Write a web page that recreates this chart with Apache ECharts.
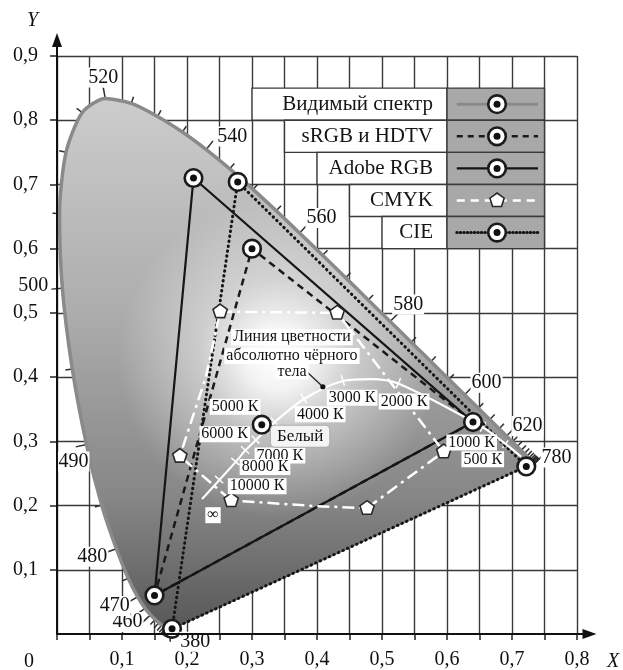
<!DOCTYPE html>
<html>
<head>
<meta charset="utf-8">
<script src="https://cdn.jsdelivr.net/npm/echarts@6/dist/echarts.min.js"></script>
<style>
  html, body { margin: 0; background: #fff; }
  #main { width: 623px; height: 670px; }
</style>
</head>
<body>
<div id="main"></div>
<script>
// спектральный локус CIE 1931: [нм, x, y]
const spectralLocus = [
  [380, 0.1741, 0.0050], [385, 0.1740, 0.0050], [390, 0.1738, 0.0049], [395, 0.1736, 0.0049],
  [400, 0.1733, 0.0048], [405, 0.1730, 0.0048], [410, 0.1726, 0.0048], [415, 0.1721, 0.0048],
  [420, 0.1714, 0.0051], [425, 0.1703, 0.0058], [430, 0.1689, 0.0069], [435, 0.1669, 0.0086],
  [440, 0.1644, 0.0109], [445, 0.1611, 0.0138], [450, 0.1566, 0.0177], [455, 0.1510, 0.0227],
  [460, 0.1440, 0.0297], [465, 0.1355, 0.0399], [470, 0.1241, 0.0578], [475, 0.1096, 0.0868],
  [480, 0.0913, 0.1327], [485, 0.0687, 0.2007], [490, 0.0454, 0.2950], [495, 0.0235, 0.4127],
  [500, 0.0082, 0.5384], [505, 0.0039, 0.6548], [510, 0.0139, 0.7502], [515, 0.0389, 0.8120],
  [520, 0.0743, 0.8338], [525, 0.1142, 0.8262], [530, 0.1547, 0.8059], [535, 0.1929, 0.7816],
  [540, 0.2296, 0.7543], [545, 0.2658, 0.7243], [550, 0.3016, 0.6923], [555, 0.3373, 0.6589],
  [560, 0.3731, 0.6245], [565, 0.4087, 0.5896], [570, 0.4441, 0.5547], [575, 0.4788, 0.5202],
  [580, 0.5125, 0.4866], [585, 0.5448, 0.4544], [590, 0.5752, 0.4242], [595, 0.6029, 0.3965],
  [600, 0.6270, 0.3725], [605, 0.6482, 0.3514], [610, 0.6658, 0.3340], [615, 0.6801, 0.3197],
  [620, 0.6915, 0.3083], [625, 0.7006, 0.2993], [630, 0.7079, 0.2920], [635, 0.7140, 0.2859],
  [640, 0.7190, 0.2809], [645, 0.7230, 0.2770], [650, 0.7260, 0.2740], [655, 0.7283, 0.2717],
  [660, 0.7300, 0.2700], [665, 0.7311, 0.2689], [670, 0.7320, 0.2680], [675, 0.7327, 0.2673],
  [680, 0.7334, 0.2666], [685, 0.7340, 0.2660], [690, 0.7344, 0.2656], [695, 0.7346, 0.2654],
  [700, 0.7347, 0.2653]
]
const wavelengthLabels = [
  [380, '380'], [460, '460'], [470, '470'], [480, '480'], [490, '490'], [500, '500'],
  [520, '520'], [540, '540'], [560, '560'], [580, '580'], [600, '600'], [620, '620'], [700, '780']
]

// цветовые охваты
const srgbGamut = [[0.64, 0.33], [0.30, 0.60], [0.15, 0.06]]
const adobeGamut = [[0.64, 0.33], [0.21, 0.71], [0.15, 0.06]]
const cieGamut = [[0.722, 0.261], [0.278, 0.704], [0.177, 0.008]]
const cmykCorners = [[0.251, 0.502], [0.431, 0.500], [0.595, 0.284], [0.477, 0.196], [0.268, 0.208], [0.189, 0.277]]
const cmykPath = [[0.251, 0.502], [0.431, 0.500], [0.595, 0.284], [0.477, 0.196], [0.400, 0.199],
  [0.268, 0.208], [0.189, 0.277], [0.229, 0.400], [0.251, 0.502]]
const whitePoint = [0.315, 0.326]

// линия абсолютно чёрного тела (точки изотерм)
const blackbody = [
  ['∞', 0.223, 0.210], ['10000 К', 0.250, 0.240], ['8000 К', 0.275, 0.268], ['7000 К', 0.290, 0.286],
  ['6000 К', 0.306, 0.302], ['5000 К', 0.335, 0.330], ['4000 К', 0.380, 0.366], ['3000 К', 0.440, 0.394],
  ['', 0.482, 0.397], ['2000 К', 0.525, 0.390], ['1000 К', 0.655, 0.322], ['500 К', 0.690, 0.296],
  ['', 0.714, 0.276]
]
const tempLabels = [
  ['5000 К', 0.274, 0.354], ['6000 К', 0.258, 0.311], ['7000 К', 0.343, 0.278], ['8000 К', 0.320, 0.260],
  ['10000 К', 0.308, 0.230], ['∞', 0.240, 0.185], ['4000 К', 0.405, 0.342], ['3000 К', 0.454, 0.368],
  ['2000 К', 0.534, 0.362], ['1000 К', 0.638, 0.298], ['500 К', 0.655, 0.272]
]
const curveCaption = [['Линия цветности', 0.3615, 0.462], ['абсолютно чёрного', 0.3615, 0.433], ['тела', 0.3615, 0.409]]
const curveDot = [0.409, 0.385]
const whiteCaption = ['Белый', 0.374, 0.308]

const legendNames = ['Видимый спектр', 'sRGB и HDTV', 'Adobe RGB', 'CMYK', 'CIE']
const xLabels = [0.1, 0.2, 0.3, 0.4, 0.5, 0.6, 0.7, 0.8]
const yLabels = [0.1, 0.2, 0.3, 0.4, 0.5, 0.6, 0.7, 0.8, 0.9]

// оформление
const FONT = "'Liberation Serif', 'Times New Roman', serif"
const gridColor = '#3a3a3a'
const labelOffset = {
  380: [25, 11], 460: [-23, 7], 470: [-23, 9], 480: [-24, 8], 490: [-13, 17], 500: [-29, -2],
  520: [-2, -21], 540: [26, -13], 560: [22, -15], 580: [18, -17], 600: [22, -12], 620: [21, -10], 700: [22, -6]
}
const legendLeft = [0.3, 0.35, 0.4, 0.45, 0.5]

const closed = arr => arr.concat([arr[0]])
const pt = d => [d[1], d[2]]

function ring(p) {
  return [
    { type: 'circle', shape: { cx: p[0], cy: p[1], r: 8.8 }, style: { fill: '#fff', stroke: '#1b1b1b', lineWidth: 2.6 } },
    { type: 'circle', shape: { cx: p[0], cy: p[1], r: 3.5 }, style: { fill: '#111' } }
  ]
}
function pentagon(p, r) {
  let pts = []
  for (let k = 0; k < 5; k++) {
    let a = (-90 + 72 * k) * Math.PI / 180
    pts.push([p[0] + r * Math.cos(a), p[1] + r * Math.sin(a)])
  }
  return { type: 'polygon', shape: { points: pts }, style: { fill: '#fff', stroke: '#2a2a2a', lineWidth: 1.6 } }
}

// все точки-кольца (без повторов)
let ringPoints = []
srgbGamut.concat(adobeGamut, cieGamut, [whitePoint]).forEach(p => {
  if (!ringPoints.some(q => q[0] === p[0] && q[1] === p[1])) ringPoints.push(p)
})

var myChart = echarts.init(document.getElementById('main'))

var option = {
  animation: false,
  grid: { left: 57, right: 46, top: 56, bottom: 35 },
  xAxis: {
    type: 'value', min: 0, max: 0.8, interval: 0.05,
    axisLine: { show: false },
    axisTick: { show: true, length: 6, lineStyle: { color: '#222', width: 1.5 } },
    axisLabel: {
      customValues: xLabels, margin: 16, color: '#111', fontFamily: FONT, fontSize: 20,
      formatter: v => v.toFixed(1).replace('.', ',')
    },
    splitLine: { show: true, lineStyle: { color: gridColor, width: 1.4 } }
  },
  yAxis: {
    type: 'value', min: 0, max: 0.9, interval: 0.05,
    axisLine: { show: false },
    axisTick: { show: true, customValues: yLabels, length: 7, lineStyle: { color: '#222', width: 1.5 } },
    axisLabel: {
      customValues: yLabels, margin: 19, color: '#111', fontFamily: FONT, fontSize: 20,
      formatter: v => v.toFixed(1).replace('.', ',')
    },
    splitLine: { show: true, lineStyle: { color: gridColor, width: 1.4 } }
  },
  graphic: [
    { type: 'text', left: 24, top: 652, style: { text: '0', font: '20px ' + FONT, fill: '#111' } },
    { type: 'text', left: 27, top: 11, style: { text: 'Y', font: 'italic 20px ' + FONT, fill: '#111' } },
    { type: 'text', left: 607, top: 652, style: { text: 'X', font: 'italic 20px ' + FONT, fill: '#111' } }
  ],
  series: [
    {   // заливка локуса
      type: 'custom', silent: true, data: [[0, 0]],
      renderItem(params, api) {
        let pts = spectralLocus.map(d => api.coord(pt(d)))
        let top = api.coord([0, 0.84]), bot = api.coord([0, 0])
        let c = api.coord([0.34, 0.43])
        return {
          type: 'group', children: [
            {
              type: 'polygon', shape: { points: pts, smooth: 0.25 },
              style: {
                fill: new echarts.graphic.LinearGradient(0, top[1], 0, bot[1], [
                  { offset: 0, color: '#cdcdcd' }, { offset: 0.4, color: '#adadad' },
                  { offset: 0.75, color: '#868686' }, { offset: 1, color: '#565656' }
                ], true)
              }
            },
            {
              type: 'polygon', shape: { points: pts, smooth: 0.25 },
              style: {
                fill: new echarts.graphic.RadialGradient(c[0], c[1], 160, [
                  { offset: 0, color: 'rgba(255,255,255,1)' }, { offset: 0.2, color: 'rgba(255,255,255,0.88)' },
                  { offset: 0.5, color: 'rgba(255,255,255,0.42)' }, { offset: 1, color: 'rgba(255,255,255,0)' }
                ], true)
              }
            }
          ]
        }
      }
    },
    {   // граница видимого спектра
      type: 'line', silent: true, symbol: 'none', smooth: 0.25,
      data: spectralLocus.map(pt),
      lineStyle: { color: '#8a8a8a', width: 3.5 }
    },
    {   // риски длин волн
      type: 'custom', silent: true,
      data: spectralLocus.map(pt),
      renderItem(params, api) {
        let i = params.dataIndex, n = spectralLocus.length
        let a = api.coord(pt(spectralLocus[Math.max(0, i - 1)]))
        let b = api.coord(pt(spectralLocus[Math.min(n - 1, i + 1)]))
        let p = api.coord(pt(spectralLocus[i]))
        let tx = b[0] - a[0], ty = b[1] - a[1]
        let len = Math.hypot(tx, ty) || 1
        let nx = ty / len, ny = -tx / len
        let c = api.coord(whitePoint)
        if (nx * (p[0] - c[0]) + ny * (p[1] - c[1]) < 0) { nx = -nx; ny = -ny }
        let L = labelOffset[spectralLocus[i][0]] ? 11 : 7
        return {
          type: 'line', shape: { x1: p[0], y1: p[1], x2: p[0] + nx * L, y2: p[1] + ny * L },
          style: { stroke: '#2e2e2e', lineWidth: 1.5 }
        }
      }
    },
    {   // CIE
      type: 'line', silent: true, symbol: 'none', data: closed(cieGamut),
      lineStyle: { color: '#151515', width: 3, type: [0.5, 4.5], cap: 'round' }
    },
    {   // sRGB
      type: 'line', silent: true, symbol: 'none', data: closed(srgbGamut),
      lineStyle: { color: '#1a1a1a', width: 2.5, type: [7, 5] }
    },
    {   // Adobe RGB
      type: 'line', silent: true, symbol: 'none', data: closed(adobeGamut),
      lineStyle: { color: '#151515', width: 2.2 }
    },
    {   // CMYK
      type: 'line', silent: true, symbol: 'none', data: cmykPath,
      lineStyle: { color: '#fff', width: 2.5, type: [12, 5, 3, 5] }
    },
    {   // линия абсолютно чёрного тела
      type: 'line', silent: true, symbol: 'none', smooth: 0.3,
      data: blackbody.map(pt),
      lineStyle: { color: '#fff', width: 2.2 }
    },
    {   // изотермы
      type: 'custom', silent: true,
      data: blackbody.map(pt),
      renderItem(params, api) {
        let i = params.dataIndex, n = blackbody.length
        let name = blackbody[i][0]
        if (!name || name === '∞') return null
        let a = api.coord(pt(blackbody[Math.max(0, i - 1)]))
        let b = api.coord(pt(blackbody[Math.min(n - 1, i + 1)]))
        let p = api.coord(pt(blackbody[i]))
        let tx = b[0] - a[0], ty = b[1] - a[1]
        let len = Math.hypot(tx, ty) || 1
        let nx = ty / len, ny = -tx / len
        return {
          type: 'line', shape: { x1: p[0] - nx * 5, y1: p[1] - ny * 5, x2: p[0] + nx * 6, y2: p[1] + ny * 6 },
          style: { stroke: '#fff', lineWidth: 1.5 }
        }
      }
    },
    {   // маркеры CMYK
      type: 'custom', silent: true, z: 4, data: cmykCorners,
      renderItem(params, api) {
        return pentagon(api.coord(cmykCorners[params.dataIndex]), 7.5)
      }
    },
    {   // маркеры-кольца
      type: 'custom', silent: true, z: 4, data: ringPoints,
      renderItem(params, api) {
        return { type: 'group', children: ring(api.coord(ringPoints[params.dataIndex])) }
      }
    },
    {   // подписи длин волн
      type: 'custom', silent: true, z: 5, data: wavelengthLabels.map(w => pt(spectralLocus.find(d => d[0] === w[0]))),
      renderItem(params, api) {
        let w = wavelengthLabels[params.dataIndex]
        let p = api.coord(pt(spectralLocus.find(d => d[0] === w[0])))
        let off = labelOffset[w[0]]
        return {
          type: 'text', x: p[0] + off[0], y: p[1] + off[1],
          style: {
            text: w[1], font: '20px ' + FONT, fill: '#111', align: 'center', verticalAlign: 'middle',
            backgroundColor: '#fff', padding: [0, 1]
          }
        }
      }
    },
    {   // подписи температур и пояснения
      type: 'custom', silent: true, z: 5,
      data: tempLabels.concat(curveCaption).map(pt),
      renderItem(params, api) {
        let all = tempLabels.concat(curveCaption)
        let t = all[params.dataIndex]
        let p = api.coord(pt(t))
        let children = [{
          type: 'text', x: p[0], y: p[1],
          style: {
            text: t[0], font: '16px ' + FONT, fill: '#111', align: 'center', verticalAlign: 'middle',
            backgroundColor: '#fff', padding: [0, 2]
          }
        }]
        if (t[0] === 'тела') {
          let d = api.coord(curveDot)
          children.unshift(
            { type: 'line', shape: { x1: p[0] + 10, y1: p[1] - 4, x2: d[0], y2: d[1] }, style: { stroke: '#222', lineWidth: 1.3 } },
            { type: 'circle', shape: { cx: d[0], cy: d[1], r: 2.6 }, style: { fill: '#111' } }
          )
        }
        return { type: 'group', children: children }
      }
    },
    {   // «Белый»
      type: 'custom', silent: true, z: 5, data: [pt(whiteCaption)],
      renderItem(params, api) {
        let p = api.coord(pt(whiteCaption))
        return {
          type: 'text', x: p[0], y: p[1],
          style: {
            text: whiteCaption[0], font: '17px ' + FONT, fill: '#111', align: 'center', verticalAlign: 'middle',
            backgroundColor: '#f4f4f4', borderColor: '#aaa', borderWidth: 1, borderRadius: 4, padding: [2, 6]
          }
        }
      }
    },
    {   // легенда
      type: 'custom', silent: true, z: 5, data: legendNames.map((s, i) => [0.6, 0.825 - 0.05 * i]),
      renderItem(params, api) {
        let i = params.dataIndex
        let yTop = 0.85 - 0.05 * i, yBot = yTop - 0.05, yMid = yTop - 0.025
        let a = api.coord([legendLeft[i], yTop]), b = api.coord([0.6, yBot]), c = api.coord([0.75, yBot])
        let m = api.coord([0.677, yMid]), l1 = api.coord([0.615, yMid]), l2 = api.coord([0.74, yMid])
        let line = { type: 'line', shape: { x1: l1[0], y1: l1[1], x2: l2[0], y2: l2[1] } }
        if (i === 0) line.style = { stroke: '#8a8a8a', lineWidth: 3 }
        if (i === 1) line.style = { stroke: '#1a1a1a', lineWidth: 2.5, lineDash: [6, 5] }
        if (i === 2) line.style = { stroke: '#151515', lineWidth: 2.2 }
        if (i === 3) line.style = { stroke: '#fff', lineWidth: 2.5, lineDash: [8, 6] }
        if (i === 4) line.style = { stroke: '#151515', lineWidth: 3, lineDash: [0.5, 3], lineCap: 'round' }
        let children = [
          { type: 'rect', shape: { x: a[0], y: a[1], width: b[0] - a[0], height: b[1] - a[1] }, style: { fill: '#fff', stroke: gridColor, lineWidth: 1.4 } },
          { type: 'rect', shape: { x: b[0], y: a[1], width: c[0] - b[0], height: b[1] - a[1] }, style: { fill: '#a8a8a8', stroke: gridColor, lineWidth: 1.4 } },
          {
            type: 'text', x: b[0] - 14, y: m[1],
            style: { text: legendNames[i], font: '21px ' + FONT, fill: '#151515', align: 'right', verticalAlign: 'middle' }
          },
          line
        ]
        if (i === 3) children.push(pentagon(m, 7.5))
        else children = children.concat(ring(m))
        return { type: 'group', children: children }
      }
    },
    {   // оси со стрелками
      type: 'custom', silent: true, z: 5, data: [[0, 0]],
      renderItem(params, api) {
        let o = api.coord([0, 0]), yt = api.coord([0, 0.936]), xt = api.coord([0.83, 0])
        return {
          type: 'group', children: [
            { type: 'line', shape: { x1: o[0], y1: o[1] + 1, x2: yt[0], y2: yt[1] + 6 }, style: { stroke: '#111', lineWidth: 2 } },
            { type: 'line', shape: { x1: o[0] - 1, y1: o[1], x2: xt[0] - 6, y2: xt[1] }, style: { stroke: '#111', lineWidth: 2 } },
            { type: 'polygon', shape: { points: [yt, [yt[0] - 5, yt[1] + 14], [yt[0] + 5, yt[1] + 14]] }, style: { fill: '#111' } },
            { type: 'polygon', shape: { points: [xt, [xt[0] - 14, xt[1] - 5], [xt[0] - 14, xt[1] + 5]] }, style: { fill: '#111' } }
          ]
        }
      }
    }
  ]
}

myChart.setOption(option)
</script>
</body>
</html>
